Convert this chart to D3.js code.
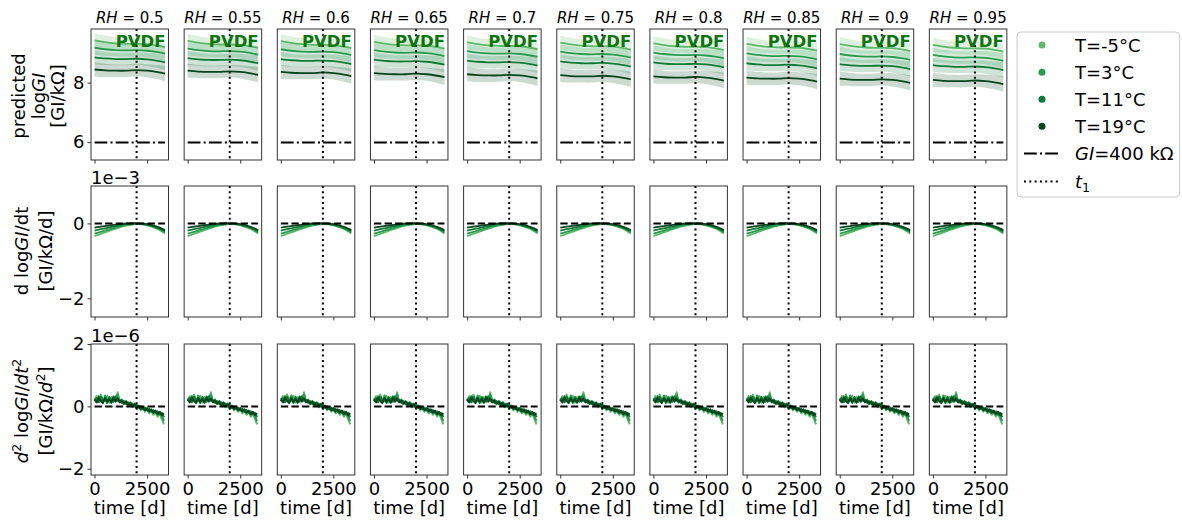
<!DOCTYPE html>
<html>
<head>
<meta charset="utf-8">
<script src="https://cdn.jsdelivr.net/npm/d3@7"></script>
<style>
  html, body { margin: 0; padding: 0; background: #fff; }
  svg { display: block; }
</style>
</head>
<body>
<svg id="chart" width="1182" height="525"></svg>
<script>
// ---------------------------------------------------------------
// Data
// ---------------------------------------------------------------
const rhLabels = ["0.5", "0.55", "0.6", "0.65", "0.7", "0.75", "0.8", "0.85", "0.9", "0.95"];
const tempLabels = ["T=-5°C", "T=3°C", "T=11°C", "T=19°C"];
const tempColors = ["#5cb86a", "#2a9a50", "#0f7a38", "#06451d"];

// time grid (days) for the predicted curves and first derivative
const timeGrid = [0, 500, 1000, 1500, 2000, 2500, 3000, 3350];
// half width of the prediction band (log units) at each time point
const bandHalfWidth = [0.24, 0.22, 0.21, 0.21, 0.21, 0.22, 0.24, 0.26];

// predicted log GI, one row per RH panel
const logGI_Tm5 = [
  [9.42, 9.36, 9.32, 9.30, 9.30, 9.29, 9.24, 9.19],
  [9.40, 9.34, 9.30, 9.28, 9.28, 9.27, 9.22, 9.17],
  [9.39, 9.33, 9.29, 9.27, 9.27, 9.26, 9.21, 9.16],
  [9.37, 9.31, 9.27, 9.25, 9.25, 9.24, 9.19, 9.14],
  [9.35, 9.29, 9.25, 9.23, 9.23, 9.22, 9.17, 9.12],
  [9.34, 9.28, 9.24, 9.22, 9.22, 9.21, 9.16, 9.11],
  [9.32, 9.26, 9.22, 9.20, 9.20, 9.19, 9.14, 9.09],
  [9.30, 9.24, 9.20, 9.18, 9.18, 9.17, 9.12, 9.07],
  [9.29, 9.23, 9.19, 9.17, 9.17, 9.16, 9.11, 9.06],
  [9.27, 9.21, 9.17, 9.15, 9.15, 9.14, 9.09, 9.04]
];
const logGI_T3 = [
  [9.17, 9.12, 9.09, 9.08, 9.09, 9.07, 9.02, 8.97],
  [9.14, 9.09, 9.06, 9.05, 9.06, 9.04, 8.99, 8.94],
  [9.12, 9.07, 9.04, 9.03, 9.04, 9.02, 8.97, 8.92],
  [9.09, 9.04, 9.01, 9.00, 9.01, 8.99, 8.94, 8.89],
  [9.06, 9.01, 8.98, 8.97, 8.98, 8.96, 8.91, 8.86],
  [9.04, 8.99, 8.96, 8.95, 8.96, 8.94, 8.89, 8.84],
  [9.01, 8.96, 8.93, 8.92, 8.93, 8.91, 8.86, 8.81],
  [8.98, 8.93, 8.90, 8.89, 8.90, 8.88, 8.83, 8.78],
  [8.96, 8.91, 8.88, 8.87, 8.88, 8.86, 8.81, 8.76],
  [8.93, 8.88, 8.85, 8.84, 8.85, 8.83, 8.78, 8.73]
];
const logGI_T11 = [
  [8.85, 8.81, 8.79, 8.79, 8.80, 8.78, 8.73, 8.68],
  [8.82, 8.78, 8.76, 8.76, 8.77, 8.75, 8.70, 8.65],
  [8.79, 8.75, 8.73, 8.73, 8.74, 8.72, 8.67, 8.62],
  [8.77, 8.73, 8.71, 8.71, 8.72, 8.70, 8.65, 8.60],
  [8.74, 8.70, 8.68, 8.68, 8.69, 8.67, 8.62, 8.57],
  [8.71, 8.67, 8.65, 8.65, 8.66, 8.64, 8.59, 8.54],
  [8.68, 8.64, 8.62, 8.62, 8.63, 8.61, 8.56, 8.51],
  [8.65, 8.61, 8.59, 8.59, 8.60, 8.58, 8.53, 8.48],
  [8.62, 8.58, 8.56, 8.56, 8.57, 8.55, 8.50, 8.45],
  [8.59, 8.55, 8.53, 8.53, 8.54, 8.52, 8.47, 8.42]
];
const logGI_T19 = [
  [8.44, 8.41, 8.40, 8.40, 8.42, 8.40, 8.35, 8.30],
  [8.40, 8.37, 8.36, 8.36, 8.38, 8.36, 8.31, 8.26],
  [8.36, 8.33, 8.32, 8.32, 8.34, 8.32, 8.27, 8.22],
  [8.32, 8.29, 8.28, 8.28, 8.30, 8.28, 8.23, 8.18],
  [8.28, 8.25, 8.24, 8.24, 8.26, 8.24, 8.19, 8.14],
  [8.25, 8.22, 8.21, 8.21, 8.23, 8.21, 8.16, 8.11],
  [8.21, 8.18, 8.17, 8.17, 8.19, 8.17, 8.12, 8.07],
  [8.17, 8.14, 8.13, 8.13, 8.15, 8.13, 8.08, 8.03],
  [8.13, 8.10, 8.09, 8.09, 8.11, 8.09, 8.04, 7.99],
  [8.09, 8.06, 8.05, 8.05, 8.07, 8.05, 8.00, 7.95]
];

// first derivative, units of 1e-3 GI/kΩ/d
const dLogGI_Tm5 = [-0.34, -0.24, -0.14, -0.06, -0.02, -0.05, -0.15, -0.27];
const dLogGI_T3  = [-0.27, -0.19, -0.11, -0.04, -0.01, -0.04, -0.13, -0.24];
const dLogGI_T11 = [-0.19, -0.13, -0.07, -0.02,  0.00, -0.03, -0.11, -0.21];
const dLogGI_T19 = [-0.11, -0.07, -0.03,  0.00,  0.01, -0.02, -0.09, -0.18];

// second derivative, units of 1e-6 GI/kΩ/d², sampled every 100 days
const d2TimeGrid = [0, 100, 200, 300, 400, 500, 600, 700, 800, 900, 1000, 1100,
  1200, 1300, 1400, 1500, 1600, 1700, 1800, 1900, 2000, 2100, 2200, 2300,
  2400, 2500, 2600, 2700, 2800, 2900, 3000, 3100, 3200, 3300];
const d2LogGI_Tm5 = [0.18, 0.33, 0.14, 0.38, 0.20, 0.17, 0.34, 0.12, 0.30, 0.19, 0.15, 0.45,
  0.13, 0.21, 0.07, 0.16, 0.02, 0.12, -0.03, 0.06, -0.08, 0.01, -0.13, -0.05,
  -0.17, -0.09, -0.22, -0.14, -0.27, -0.19, -0.33, -0.23, -0.40, -0.58];
const d2LogGI_T3 = [0.26, 0.15, 0.33, 0.20, 0.12, 0.35, 0.17, 0.26, 0.13, 0.32, 0.19, 0.38,
  0.15, 0.22, 0.10, 0.17, 0.05, 0.13, 0.01, 0.09, -0.04, 0.03, -0.08, -0.01,
  -0.12, -0.05, -0.17, -0.10, -0.21, -0.14, -0.26, -0.18, -0.33, -0.47];
const d2LogGI_T11 = [0.17, 0.27, 0.13, 0.31, 0.18, 0.24, 0.11, 0.30, 0.19, 0.15, 0.32, 0.18,
  0.21, 0.11, 0.17, 0.07, 0.13, 0.03, 0.09, -0.01, 0.05, -0.05, 0.00, -0.09,
  -0.04, -0.13, -0.08, -0.17, -0.12, -0.21, -0.16, -0.26, -0.21, -0.35];
const d2LogGI_T19 = [0.22, 0.13, 0.28, 0.17, 0.11, 0.27, 0.15, 0.23, 0.12, 0.29, 0.16, 0.25,
  0.13, 0.19, 0.09, 0.15, 0.05, 0.11, 0.01, 0.07, -0.04, 0.01, -0.08, -0.03,
  -0.12, -0.07, -0.16, -0.10, -0.20, -0.14, -0.25, -0.18, -0.28, -0.22];

const thresholdLogGI = 5.99;   // ln(400 kΩ)
const thresholdSpan = [0, 3350];
const t1Day = 2000;

const xTicks = [0, 2500];
const yTicksRow = [[6, 8], [-2, 0], [-2, 0, 2]];
const offsetLabels = [null, "1e\u22123", "1e\u22126"];

// ---------------------------------------------------------------
// Layout
// ---------------------------------------------------------------
const FONT = '"DejaVu Sans", sans-serif';
const panelLeft0 = 91, panelStep = 93.15, panelW = 77.5;
const rowTop = [29, 186, 344], rowH = 131;
const xDomain = [-167.5, 3517.5];
const yDomains = [[5.40, 9.80], [-2.5, 1.0], [-2.2, 2.0]];

const svg = d3.select("#chart").attr("font-family", FONT);

const x = d3.scaleLinear().domain(xDomain).range([0, panelW]);
const yScales = yDomains.map(d => d3.scaleLinear().domain(d).range([rowH, 0]));

const row1Series = [logGI_Tm5, logGI_T3, logGI_T11, logGI_T19];
const row2Series = [dLogGI_Tm5, dLogGI_T3, dLogGI_T11, dLogGI_T19];
const row3Series = [d2LogGI_Tm5, d2LogGI_T3, d2LogGI_T11, d2LogGI_T19];

function drawPanel(r, c) {
  const y = yScales[r];
  const g = svg.append("g")
    .attr("transform", `translate(${panelLeft0 + c * panelStep},${rowTop[r]})`);

  const clipId = `clip-${r}-${c}`;
  g.append("clipPath").attr("id", clipId)
    .append("rect").attr("width", panelW).attr("height", rowH);
  const plot = g.append("g").attr("clip-path", `url(#${clipId})`);

  const smooth = d3.line().x(d => x(d[0])).y(d => y(d[1])).curve(d3.curveCatmullRom);

  if (r === 0) {
    row1Series.forEach((series, s) => {
      const vals = series[c];
      const pts = timeGrid.map((t, k) => [t, vals[k], bandHalfWidth[k]]);
      plot.append("path")
        .attr("d", d3.area()
          .x(d => x(d[0]))
          .y0(d => y(d[1] - d[2]))
          .y1(d => y(d[1] + d[2]))
          .curve(d3.curveCatmullRom)(pts))
        .attr("fill", tempColors[s])
        .attr("fill-opacity", 0.2);
      plot.append("path")
        .attr("d", smooth(pts))
        .attr("fill", "none")
        .attr("stroke", tempColors[s])
        .attr("stroke-width", 1.8);
    });
    // material label
    g.append("text")
      .attr("x", panelW - 3)
      .attr("y", 18)
      .attr("text-anchor", "end")
      .attr("font-size", 16.5)
      .attr("font-weight", "bold")
      .attr("fill", "#0e740e")
      .text("PVDF");
    // GI = 400 kΩ threshold
    plot.append("line")
      .attr("x1", x(thresholdSpan[0])).attr("x2", x(thresholdSpan[1]))
      .attr("y1", y(thresholdLogGI)).attr("y2", y(thresholdLogGI))
      .attr("stroke", "#000").attr("stroke-width", 2)
      .attr("stroke-dasharray", "12.8,3.2,2,3.2");
  } else {
    const series = r === 1 ? row2Series : row3Series;
    const grid = r === 1 ? timeGrid : d2TimeGrid;
    const gen = r === 1 ? smooth
      : d3.line().x(d => x(d[0])).y(d => y(d[1]));
    series.forEach((vals, s) => {
      const pts = grid.map((t, k) => [t, vals[k]]);
      plot.append("path")
        .attr("d", gen(pts))
        .attr("fill", "none")
        .attr("stroke", tempColors[s])
        .attr("stroke-width", r === 1 ? 1.8 : 2)
        .attr("stroke-linejoin", "round");
    });
    plot.append("line")
      .attr("x1", x(thresholdSpan[0])).attr("x2", x(thresholdSpan[1]))
      .attr("y1", y(0)).attr("y2", y(0))
      .attr("stroke", "#000").attr("stroke-width", 2)
      .attr("stroke-dasharray", "7.4,3.2");
  }

  // t1 marker
  plot.append("line")
    .attr("x1", x(t1Day)).attr("x2", x(t1Day))
    .attr("y1", 0).attr("y2", rowH)
    .attr("stroke", "#000").attr("stroke-width", 2)
    .attr("stroke-dasharray", "2,3.3");

  // frame
  g.append("rect")
    .attr("width", panelW).attr("height", rowH)
    .attr("fill", "none").attr("stroke", "#333").attr("stroke-width", 1);

  // x axis
  const xAxis = d3.axisBottom(x)
    .tickValues(xTicks)
    .tickSize(3.5).tickSizeOuter(0).tickPadding(4)
    .tickFormat(r === 2 ? d3.format("d") : () => "");
  const xa = g.append("g").attr("transform", `translate(0,${rowH})`).call(xAxis);
  xa.attr("font-size", 18).attr("font-family", FONT);
  xa.select(".domain").remove();
  xa.selectAll("line").attr("stroke", "#333");
  xa.selectAll("text").attr("fill", "#000");

  if (c === 0) {
    const yAxis = d3.axisLeft(y)
      .tickValues(yTicksRow[r])
      .tickSize(3.5).tickSizeOuter(0).tickPadding(3)
      .tickFormat(d3.format("d"));
    const ya = g.append("g").call(yAxis);
    ya.attr("font-size", 18).attr("font-family", FONT);
    ya.select(".domain").remove();
    ya.selectAll("line").attr("stroke", "#333");
    ya.selectAll("text").attr("fill", "#000");

    if (offsetLabels[r]) {
      g.append("text")
        .attr("x", 0).attr("y", -2)
        .attr("font-size", 18)
        .text(offsetLabels[r]);
    }
  }

  if (r === 0) {
    const t = g.append("text")
      .attr("x", panelW / 2).attr("y", -6)
      .attr("text-anchor", "middle")
      .attr("font-size", 15);
    t.append("tspan").attr("font-style", "italic").text("RH");
    t.append("tspan").text(" = " + rhLabels[c]);
  }

  if (r === 2) {
    g.append("text")
      .attr("x", panelW / 2).attr("y", rowH + 39)
      .attr("text-anchor", "middle")
      .attr("font-size", 18)
      .text("time [d]");
  }
}

for (let r = 0; r < 3; r++) {
  for (let c = 0; c < rhLabels.length; c++) drawPanel(r, c);
}

// ---------------------------------------------------------------
// Row labels (rotated, multi-line)
// ---------------------------------------------------------------
function rotatedLine(xBase, yCenter, parts) {
  const t = svg.append("text")
    .attr("transform", `translate(${xBase},${yCenter}) rotate(-90)`)
    .attr("text-anchor", "middle")
    .attr("font-size", 18);
  parts.forEach(p => {
    const sp = t.append("tspan").text(p.s);
    if (p.i) sp.attr("font-style", "italic");
    if (p.sup) sp.attr("font-size", 12.5).attr("dy", -7);
    if (p.after) sp.attr("dy", 7);
  });
}

// row 1
rotatedLine(25, 96, [{ s: "predicted" }]);
rotatedLine(44.5, 96, [{ s: "log" }, { s: "GI", i: true }]);
rotatedLine(64, 96, [{ s: "[GI/kΩ]" }]);
// row 2
rotatedLine(28, 251, [{ s: "d log" }, { s: "GI", i: true }, { s: "/dt" }]);
rotatedLine(52, 251, [{ s: "[GI/kΩ/d]" }]);
// row 3
rotatedLine(28, 411, [
  { s: "d", i: true }, { s: "2", sup: true }, { s: " log", after: true },
  { s: "GI", i: true }, { s: "/" }, { s: "dt", i: true }, { s: "2", sup: true }
]);
rotatedLine(52, 411, [
  { s: "[GI/kΩ/" }, { s: "d", i: true }, { s: "2", sup: true }, { s: "]", after: true }
]);

// ---------------------------------------------------------------
// Legend
// ---------------------------------------------------------------
const legend = svg.append("g").attr("font-size", 18);
legend.append("rect")
  .attr("x", 1017).attr("y", 32).attr("width", 162.5).attr("height", 165)
  .attr("rx", 4).attr("fill", "#fff").attr("stroke", "#cccccc").attr("stroke-width", 1);

const legendRowY = [45, 72.3, 99.3, 126.3, 153.5, 181.5];
tempLabels.forEach((lab, i) => {
  legend.append("circle")
    .attr("cx", 1042).attr("cy", legendRowY[i]).attr("r", 3.5)
    .attr("fill", tempColors[i]);
  legend.append("text")
    .attr("x", 1075).attr("y", legendRowY[i] + 6.5)
    .text(lab);
});
legend.append("line")
  .attr("x1", 1024).attr("x2", 1060)
  .attr("y1", legendRowY[4]).attr("y2", legendRowY[4])
  .attr("stroke", "#000").attr("stroke-width", 2)
  .attr("stroke-dasharray", "12.8,3.2,2,3.2");
const gl = legend.append("text").attr("x", 1075).attr("y", legendRowY[4] + 6.5);
gl.append("tspan").attr("font-style", "italic").text("GI");
gl.append("tspan").text("=400 kΩ");

legend.append("line")
  .attr("x1", 1024).attr("x2", 1060)
  .attr("y1", legendRowY[5]).attr("y2", legendRowY[5])
  .attr("stroke", "#000").attr("stroke-width", 2)
  .attr("stroke-dasharray", "2,3.3");
const tl = legend.append("text").attr("x", 1075).attr("y", legendRowY[5] + 6.5);
tl.append("tspan").attr("font-style", "italic").text("t");
tl.append("tspan").attr("font-size", 12.5).attr("dy", 4).text("1");
</script>
</body>
</html>
